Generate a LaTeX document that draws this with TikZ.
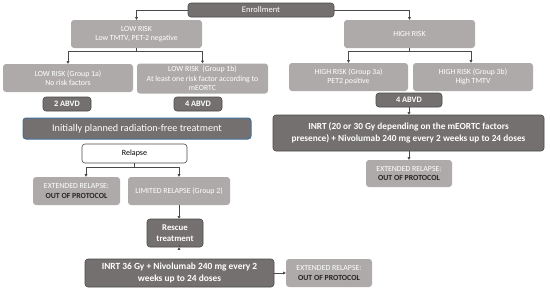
\documentclass[tikz,border=0pt]{standalone}
\usepackage{fontspec}
\setmainfont{Carlito}
\usetikzlibrary{arrows.meta}
\definecolor{dgray}{HTML}{757070}
\definecolor{lgray}{HTML}{AEAAAA}
\definecolor{bord}{HTML}{4A4A4A}
\definecolor{bluebord}{HTML}{41719C}
\definecolor{txtdark}{HTML}{262626}
\tikzset{
  base/.style={rounded corners=3pt, align=center, inner sep=1pt},
  lightbox/.style={base, fill=lgray, text=white, font=\fontsize{7.8}{9.4}\selectfont},
  darkbox/.style={base, fill=dgray, draw=bord, line width=0.6pt, text=white},
  extbox/.style={lightbox, text=txtdark},
  conn/.style={draw=bord, line width=0.6pt, -{Triangle[length=2.6pt,width=2.8pt]}},
  plain/.style={draw=bord, line width=0.6pt}
}
\begin{document}
\begin{tikzpicture}[x=1pt,y=-1pt]
\useasboundingbox (0,0) rectangle (550,292);
\node[darkbox, minimum width=146pt, minimum height=14pt, font=\fontsize{8.5}{10}\selectfont] (enr) at (261,10) {Enrollment};
\node[lightbox, minimum width=131pt, minimum height=28pt] (low) at (136.5,34) {LOW RISK\\Low TMTV, PET-2 negative};
\node[lightbox, minimum width=131pt, minimum height=28pt] (high) at (409.5,34) {HIGH RISK};
\node[lightbox, minimum width=130pt, minimum height=28pt] (g1a) at (68,78) {LOW RISK (Group 1a)\\No risk factors};
\node[lightbox, minimum width=131pt, minimum height=30pt] (g1b) at (202.5,78.5) {LOW RISK\ \ (Group 1b)\\At least one risk factor according to\\mEORTC};
\node[lightbox, minimum width=119pt, minimum height=28pt] (g3a) at (348.5,77) {HIGH RISK (Group 3a)\\PET2 positive};
\node[lightbox, minimum width=120pt, minimum height=28pt] (g3b) at (473,77) {HIGH RISK (Group 3b)\\High TMTV};
\node[darkbox, minimum width=48pt, minimum height=14pt, font=\fontsize{8.3}{10}\selectfont\bfseries] (abvd2) at (67,104) {2 ABVD};
\node[darkbox, minimum width=48pt, minimum height=14pt, font=\fontsize{8.3}{10}\selectfont\bfseries] (abvd4l) at (198,104) {4 ABVD};
\node[darkbox, minimum width=66pt, minimum height=14pt, font=\fontsize{8.3}{10}\selectfont\bfseries] (abvd4h) at (409,100) {4 ABVD};
\node[base, fill=dgray, draw=bluebord, line width=1pt, text=white, minimum width=228pt, minimum height=21pt, font=\fontsize{10.2}{12}\selectfont] (init) at (137,128.5) {Initially planned radiation-free treatment};
\node[base, fill=white, draw=bord, line width=0.6pt, text=black, minimum width=105pt, minimum height=19pt, font=\fontsize{8}{10}\selectfont] (rel) at (134.5,153.5) {Relapse};
\node[extbox, minimum width=87pt, minimum height=28pt] (ext1) at (76.5,191) {\textcolor{white}{EXTENDED RELAPSE:}\\\textbf{OUT OF PROTOCOL}};
\node[lightbox, minimum width=102pt, minimum height=28pt] (lim) at (179,191) {LIMITED RELAPSE (Group 2)};
\node[darkbox, minimum width=56pt, minimum height=28pt, font=\fontsize{8.8}{10.6}\selectfont\bfseries] (resc) at (175,233) {Rescue\\treatment};
\node[darkbox, minimum width=189pt, minimum height=28pt, font=\fontsize{9.4}{11.4}\selectfont\bfseries] (inrt36) at (179.5,273) {INRT 36 Gy + Nivolumab 240 mg every 2\\weeks up to 24 doses};
\node[extbox, minimum width=86pt, minimum height=28pt] (ext3) at (329,273) {\textcolor{white}{EXTENDED RELAPSE:}\\\textbf{OUT OF PROTOCOL}};
\node[darkbox, minimum width=271pt, minimum height=36pt, font=\fontsize{9.3}{11.6}\selectfont\bfseries] (inrth) at (408.5,133) {INRT (20 or 30 Gy depending on the mEORTC factors\\presence) + Nivolumab 240 mg every 2 weeks up to 24 doses};
\node[extbox, minimum width=86pt, minimum height=27pt] (ext2) at (409,173.5) {\textcolor{white}{EXTENDED RELAPSE:}\\\textbf{OUT OF PROTOCOL}};
% connectors
\draw[conn] (enr.west) -| (low.north);
\draw[conn] (enr.east) -| (high.north);
\coordinate (lb) at (136.5,51);
\draw[plain] (low.south) -- (lb);
\draw[conn] (lb) -| (g1a.north);
\draw[conn] (lb) -| (g1b.north);
\coordinate (hb) at (409.5,51);
\draw[plain] (high.south) -- (hb);
\draw[conn] (hb) -| (g3a.north);
\draw[conn] (hb) -| (g3b.north -| 471,0);
\draw[conn] (abvd4h.south) -- (abvd4h.south |- inrth.north);
\draw[conn] (inrth.south -| abvd4h) -- (ext2.north);
\coordinate (rb) at (134.5,167);
\draw[plain] (rel.south) -- (rb);
\draw[conn] (rb) -| (ext1.north -| 86,0);
\draw[conn] (rb) -| (lim.north);
\draw[conn] (lim.south) -- (lim.south |- resc.north);
\draw[conn] (resc.south -| lim) -- (resc.south -| lim |- inrt36.north);
\draw[conn] (inrt36.east) -- (ext3.west);
\end{tikzpicture}
\end{document}
